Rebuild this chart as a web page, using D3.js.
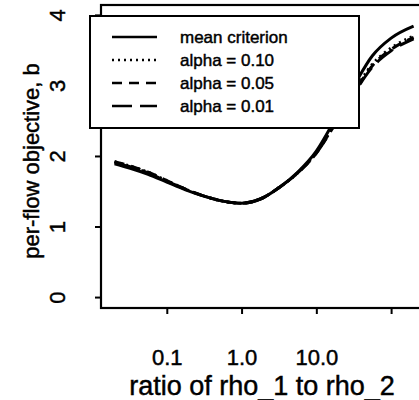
<!DOCTYPE html>
<html>
<head>
<meta charset="utf-8">
<script src="https://cdn.jsdelivr.net/npm/d3@7"></script>
<style>
  body { margin: 0; background: #fff; }
  svg { display: block; font-family: "Liberation Sans", Arial, Helvetica, sans-serif; }
  text { stroke: #000; stroke-width: 0.45px; }
</style>
</head>
<body>
<svg id="chart" width="419" height="400"></svg>
<script>
// ratio of rho_1 to rho_2 (log spaced)
let ratios = [0.02, 0.0316, 0.0562, 0.1, 0.178, 0.316, 0.562, 1, 1.78, 3.16, 5.62, 10, 17.8, 31.6, 56.2, 100, 200];
let meanCrit = [1.89, 1.83, 1.74, 1.63, 1.52, 1.43, 1.36, 1.33, 1.39, 1.55, 1.77, 2.07, 2.52, 2.99, 3.42, 3.67, 3.84];
let alpha10 = [1.92, 1.86, 1.77, 1.65, 1.53, 1.43, 1.36, 1.33, 1.39, 1.55, 1.76, 2.05, 2.47, 2.91, 3.30, 3.53, 3.70];
let alpha05 = [1.92, 1.86, 1.77, 1.65, 1.53, 1.43, 1.36, 1.33, 1.39, 1.55, 1.76, 2.04, 2.46, 2.89, 3.28, 3.51, 3.68];
let alpha01 = [1.91, 1.85, 1.76, 1.64, 1.53, 1.43, 1.36, 1.33, 1.39, 1.55, 1.76, 2.04, 2.45, 2.88, 3.26, 3.49, 3.66];

let xTicks = [0.1, 1, 10, 100],
	xTickLabels = ['0.1', '1.0', '10.0', ''],
	yTicks = [0, 1, 2, 3, 4],
	legendLabels = ['mean criterion', 'alpha = 0.10', 'alpha = 0.05', 'alpha = 0.01'];

let series = [
	{values: meanCrit, dash: null},
	{values: alpha10, dash: '2,4'},
	{values: alpha05, dash: '10,7'},
	{values: alpha01, dash: '20,8'}
];

let svg = d3.select('#chart'),
	plotLeft = 101, plotRight = 424, plotTop = 5, plotBottom = 308,
	x = d3.scaleLog().domain([Math.pow(10, -1.88), Math.pow(10, 2.44)]).range([plotLeft, plotRight]),
	y = d3.scaleLinear().domain([-0.155, 4.14]).range([plotBottom, plotTop]);

let line = d3.line()
	.x(function(d) { return x(d[0]); })
	.y(function(d) { return y(d[1]); })
	.curve(d3.curveMonotoneX);

// curves
series.forEach(function(s) {
	svg.append('path')
		.datum(ratios.map(function(r, i) { return [r, s.values[i]]; }))
		.attr('d', line)
		.attr('fill', 'none')
		.attr('stroke', '#000')
		.attr('stroke-width', 3)
		.attr('stroke-dasharray', s.dash);
});

// plot box
svg.append('rect')
	.attr('x', plotLeft).attr('y', plotTop)
	.attr('width', plotRight - plotLeft).attr('height', plotBottom - plotTop)
	.attr('fill', 'none').attr('stroke', '#000').attr('stroke-width', 2.2);

// x axis
let xAxis = svg.append('g')
	.attr('transform', 'translate(0,' + plotBottom + ')')
	.call(d3.axisBottom(x).tickValues(xTicks).tickSize(6).tickSizeOuter(0)
		.tickFormat(function(d, i) { return xTickLabels[i]; }));
xAxis.select('.domain').remove();
xAxis.selectAll('line').attr('stroke-width', 2);
xAxis.selectAll('text')
	.attr('y', 57).attr('dy', 0)
	.attr('fill', '#000')
	.style('font-size', '22px');

// y axis
let yAxis = svg.append('g')
	.attr('transform', 'translate(' + plotLeft + ',0)')
	.call(d3.axisLeft(y).tickValues(yTicks).tickSize(6).tickSizeOuter(0).tickFormat(d3.format('d')));
yAxis.select('.domain').remove();
yAxis.selectAll('line').attr('stroke-width', 2);
yAxis.selectAll('text')
	.attr('x', 0).attr('dy', 0)
	.attr('text-anchor', 'middle')
	.attr('transform', 'translate(-36,0) rotate(-90)')
	.attr('fill', '#000')
	.style('font-size', '22px');

// axis titles
svg.append('text')
	.attr('x', 262).attr('y', 395)
	.attr('text-anchor', 'middle')
	.style('font-size', '27px')
	.text('ratio of rho_1 to rho_2');

svg.append('text')
	.attr('transform', 'translate(39,161) rotate(-90)')
	.attr('text-anchor', 'middle')
	.style('font-size', '22px')
	.text('per-flow objective, b');

// legend
let legend = svg.append('g');
legend.append('rect')
	.attr('x', 90).attr('y', 16)
	.attr('width', 269).attr('height', 112)
	.attr('fill', '#fff').attr('stroke', '#000').attr('stroke-width', 2);

legendLabels.forEach(function(lab, i) {
	let ly = 37 + i * 23;
	legend.append('line')
		.attr('x1', 112).attr('x2', 157)
		.attr('y1', ly).attr('y2', ly)
		.attr('stroke', '#000').attr('stroke-width', 2.4)
		.attr('stroke-dasharray', series[i].dash);
	legend.append('text')
		.attr('x', 180).attr('y', ly + 6)
		.style('font-size', '17px')
		.text(lab);
});
</script>
</body>
</html>
